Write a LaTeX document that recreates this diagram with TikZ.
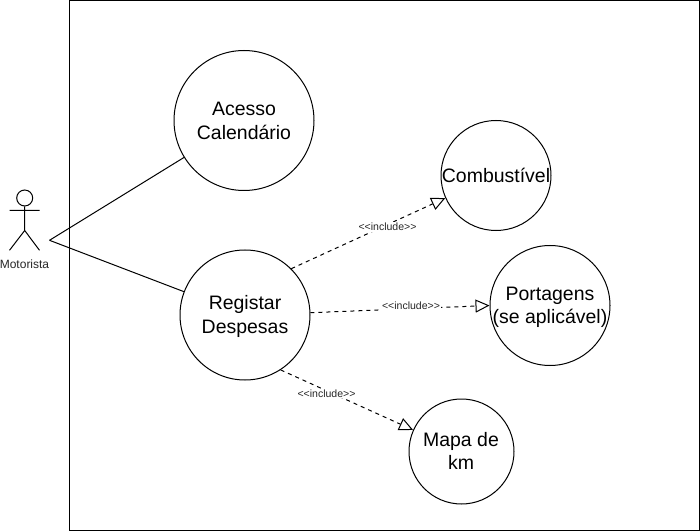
\documentclass[tikz,border=0pt]{standalone}
\usepackage{fontspec}
\setmainfont{Liberation Sans}
\usetikzlibrary{arrows.meta}
\tikzset{
 uc/.style={draw,circle,line width=0.75pt,inner sep=0pt},
 uctext/.style={inner sep=0pt,align=center,font=\fontsize{14.6}{18}\selectfont},
 uctight/.style={inner sep=0pt,align=center,font=\fontsize{14.6}{17}\selectfont},
 inc/.style={draw,line width=0.75pt,dash pattern=on 3pt off 3pt,-{Triangle[open,length=10.5pt,width=9.75pt,fill=white]}},
 lbl/.style={fill=white,inner sep=0.6pt,text=black!85,font=\fontsize{7.9}{9}\selectfont},
 act/.style={draw,line width=0.75pt}
}
\begin{document}
\begin{tikzpicture}[x=0.75pt,y=-0.75pt,line width=0.75pt]
\useasboundingbox (0,0) rectangle (700,531);
\draw[line width=0.75pt] (69.5,0.5) rectangle (699.5,530.5);
\node[uc,minimum size=105pt] (a) at (244,120.5) {};
\node[uc,minimum size=97.5pt] (r) at (245,315) {};
\node[uc,minimum size=82.5pt] (c) at (496,175.5) {};
\node[uc,minimum size=90pt] (p) at (550,305.5) {};
\node[uc,minimum size=78.75pt] (m) at (461.5,451.5) {};
\node[uctext] (at) at (244,120.5) {Acesso\\Calendário};
\node[uctext] (rt) at (245,316.5) {Registar\\Despesas};
\node[uctext] (ct) at (496,175.5) {Combustível};
\node[uctight] (pt) at (550,307) {Portagens\\(se aplicável)};
\node[uctight] (mt) at (461,451) {Mapa de\\km};
\coordinate (h) at (49.5,240.3);
\node[act,circle,minimum size=12pt,inner sep=0pt] (head) at (24.7,198) {};
\coordinate (hip) at (24.7,230.5);
\coordinate (armL) at (9.5,210.3);
\coordinate (armR) at (39.5,210.3);
\coordinate (footL) at (9.5,250.3);
\coordinate (footR) at (39.5,250.3);
\draw[act] (head.south) -- (hip) (armL) -- (armR) (hip) -- (footL) (hip) -- (footR);
\node[text=black!85,font=\fontsize{9}{11}\selectfont,inner sep=0pt] (mot) at (24.5,264) {Motorista};
\draw[act] (h) -- (a);
\draw[act] (h) -- (r);
\draw[inc] (r.45.6) -- (c.204);
\draw[inc] (r.2) -- (p.180);
\draw[inc] (r.-57.5) -- (m.156);
\node[lbl] (l1) at (387.5,227) {<{}<include>{}>};
\node[lbl] (l2) at (411,306) {<{}<include>{}>};
\node[lbl] (l3) at (326.5,393.5) {<{}<include>{}>};
\end{tikzpicture}
\end{document}
